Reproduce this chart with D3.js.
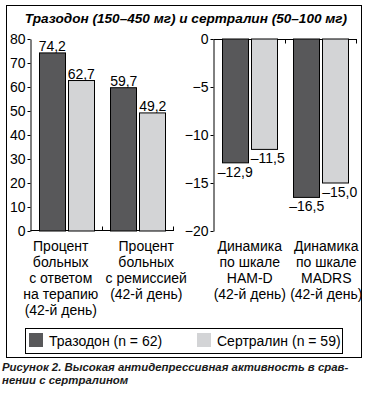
<!DOCTYPE html>
<html>
<head>
<meta charset="utf-8">
<script src="https://cdn.jsdelivr.net/npm/d3@7"></script>
<style>
	body { margin: 0; background: #fff; }
	svg { display: block; font-family: "Liberation Sans", Arial, sans-serif; }
	.axis path, .axis line { stroke: #000; }
	.axis text { font-size: 14px; fill: #000; }
</style>
</head>
<body>
<div id="chart"></div>
<script>
// data
var title = 'Тразодон (150–450 мг) и сертралин (50–100 мг)'
var seriesNames = ['Тразодон (n = 62)', 'Сертралин (n = 59)']
var leftCats = [
	['Процент', 'больных', 'с ответом', 'на терапию', '(42-й день)'],
	['Процент', 'больных', 'с ремиссией', '(42-й день)']
]
var leftTrazodone = [74.2, 59.7]
var leftSertraline = [62.7, 49.2]
var leftTicks = [0, 10, 20, 30, 40, 50, 60, 70, 80]
var rightCats = [
	['Динамика', 'по шкале', 'HAM-D', '(42-й день)'],
	['Динамика', 'по шкале', 'MADRS', '(42-й день)']
]
var rightTrazodone = [-12.9, -16.5]
var rightSertraline = [-11.5, -15.0]
var rightTicks = [0, -5, -10, -15, -20]
var caption = ['Рисунок 2. Высокая антидепрессивная активность в срав-', 'нении с сертралином']

var darkColor = '#58585a'
var lightColor = '#d3d4d6'
var fmt = function(v) { return (v < 0 ? '–' : '') + Math.abs(v).toFixed(1).replace('.', ',') }

var svg = d3.select('#chart').append('svg')
	.attr('width', 373)
	.attr('height', 394)

// frame
svg.append('rect')
	.attr('x', 6.5).attr('y', 5.5)
	.attr('width', 355).attr('height', 352)
	.attr('fill', 'none').attr('stroke', '#000')

svg.append('text')
	.attr('x', 186).attr('y', 23)
	.attr('text-anchor', 'middle')
	.style('font-size', '13.6px').style('font-weight', 'bold').style('font-style', 'italic')
	.text(title)

function drawPanel(opts) {
	var x = d3.scaleBand().domain(d3.range(opts.cats.length)).range(opts.xRange)
	var y = d3.scaleLinear().domain(opts.yDomain).range([39, 231])
	var g = svg.append('g')

	g.append('g').attr('class', 'axis')
		.attr('transform', 'translate(' + (opts.xRange[0] - 0.5) + ',0)')
		.call(d3.axisLeft(y).tickValues(opts.ticks).tickSize(3).tickPadding(2).tickSizeOuter(0))

	// baseline with group ticks
	var baseY = Math.round(y(0)) + (opts.top ? 0.5 : -0.5)
	g.append('line')
		.attr('x1', opts.xRange[0] - 0.5).attr('x2', opts.xRange[1])
		.attr('y1', baseY).attr('y2', baseY)
		.attr('stroke', '#000')
	opts.cats.forEach(function(c, i) {
		var tx = Math.round(x(i) + x.bandwidth()) - 0.5
		g.append('line')
			.attr('x1', tx).attr('x2', tx)
			.attr('y1', baseY).attr('y2', baseY + (opts.top ? 4 : -4))
			.attr('stroke', '#000')
	})

	var bw = 27
	opts.cats.forEach(function(c, i) {
		var cx = x(i) + x.bandwidth() / 2
		var vals = [opts.a[i], opts.b[i]]
		vals.forEach(function(v, j) {
			var bx = j === 0 ? cx - bw - 1 : cx + 1
			g.append('rect')
				.attr('x', Math.round(bx) + 0.5)
				.attr('y', Math.min(y(v), y(0)))
				.attr('width', bw - 1)
				.attr('height', Math.abs(y(v) - y(0)))
				.attr('fill', j === 0 ? darkColor : lightColor)
				.attr('stroke', '#000').attr('stroke-width', 1)
			var lab = g.append('text')
				.style('font-size', '14px')
				.text(fmt(v))
			if (v >= 0) {
				lab.attr('x', bx + bw / 2).attr('y', y(v) - 2).attr('text-anchor', 'middle')
			} else if (j === 0) {
				lab.attr('x', bx + bw / 2).attr('y', y(v) + 14).attr('text-anchor', 'middle')
			} else {
				lab.attr('x', bx).attr('y', y(v) + 14).attr('text-anchor', 'start')
			}
		})
		var t = g.append('text')
			.attr('text-anchor', 'middle')
			.style('font-size', '14px')
		c.forEach(function(line, k) {
			t.append('tspan')
				.attr('x', cx + opts.labelShift[i])
				.attr('y', 251 + 16 * k)
				.text(line)
		})
	})
}

drawPanel({ cats: leftCats, a: leftTrazodone, b: leftSertraline, yDomain: [80, 0],
	ticks: leftTicks, xRange: [31, 174], labelShift: [-6, 8], top: false })
drawPanel({ cats: rightCats, a: rightTrazodone, b: rightSertraline, yDomain: [0, -20],
	ticks: rightTicks, xRange: [214, 357], labelShift: [0, 5], top: true })

// legend
var legend = svg.append('g')
legend.append('rect')
	.attr('x', 25.5).attr('y', 328.5).attr('width', 317).attr('height', 25)
	.attr('fill', 'none').attr('stroke', '#000')
var legendX = [29, 197]
seriesNames.forEach(function(name, i) {
	legend.append('rect')
		.attr('x', legendX[i]).attr('y', 333).attr('width', 14).attr('height', 14)
		.attr('fill', i === 0 ? darkColor : lightColor)
	legend.append('text')
		.attr('x', legendX[i] + 20).attr('y', 346)
		.style('font-size', '14px')
		.text(name)
})

// caption
caption.forEach(function(line, i) {
	svg.append('text')
		.attr('x', 2).attr('y', 371 + 13 * i)
		.style('font-size', '11.4px').style('font-weight', 'bold').style('font-style', 'italic')
		.attr('fill', '#1a1a1a')
		.text(line)
})
</script>
</body>
</html>
